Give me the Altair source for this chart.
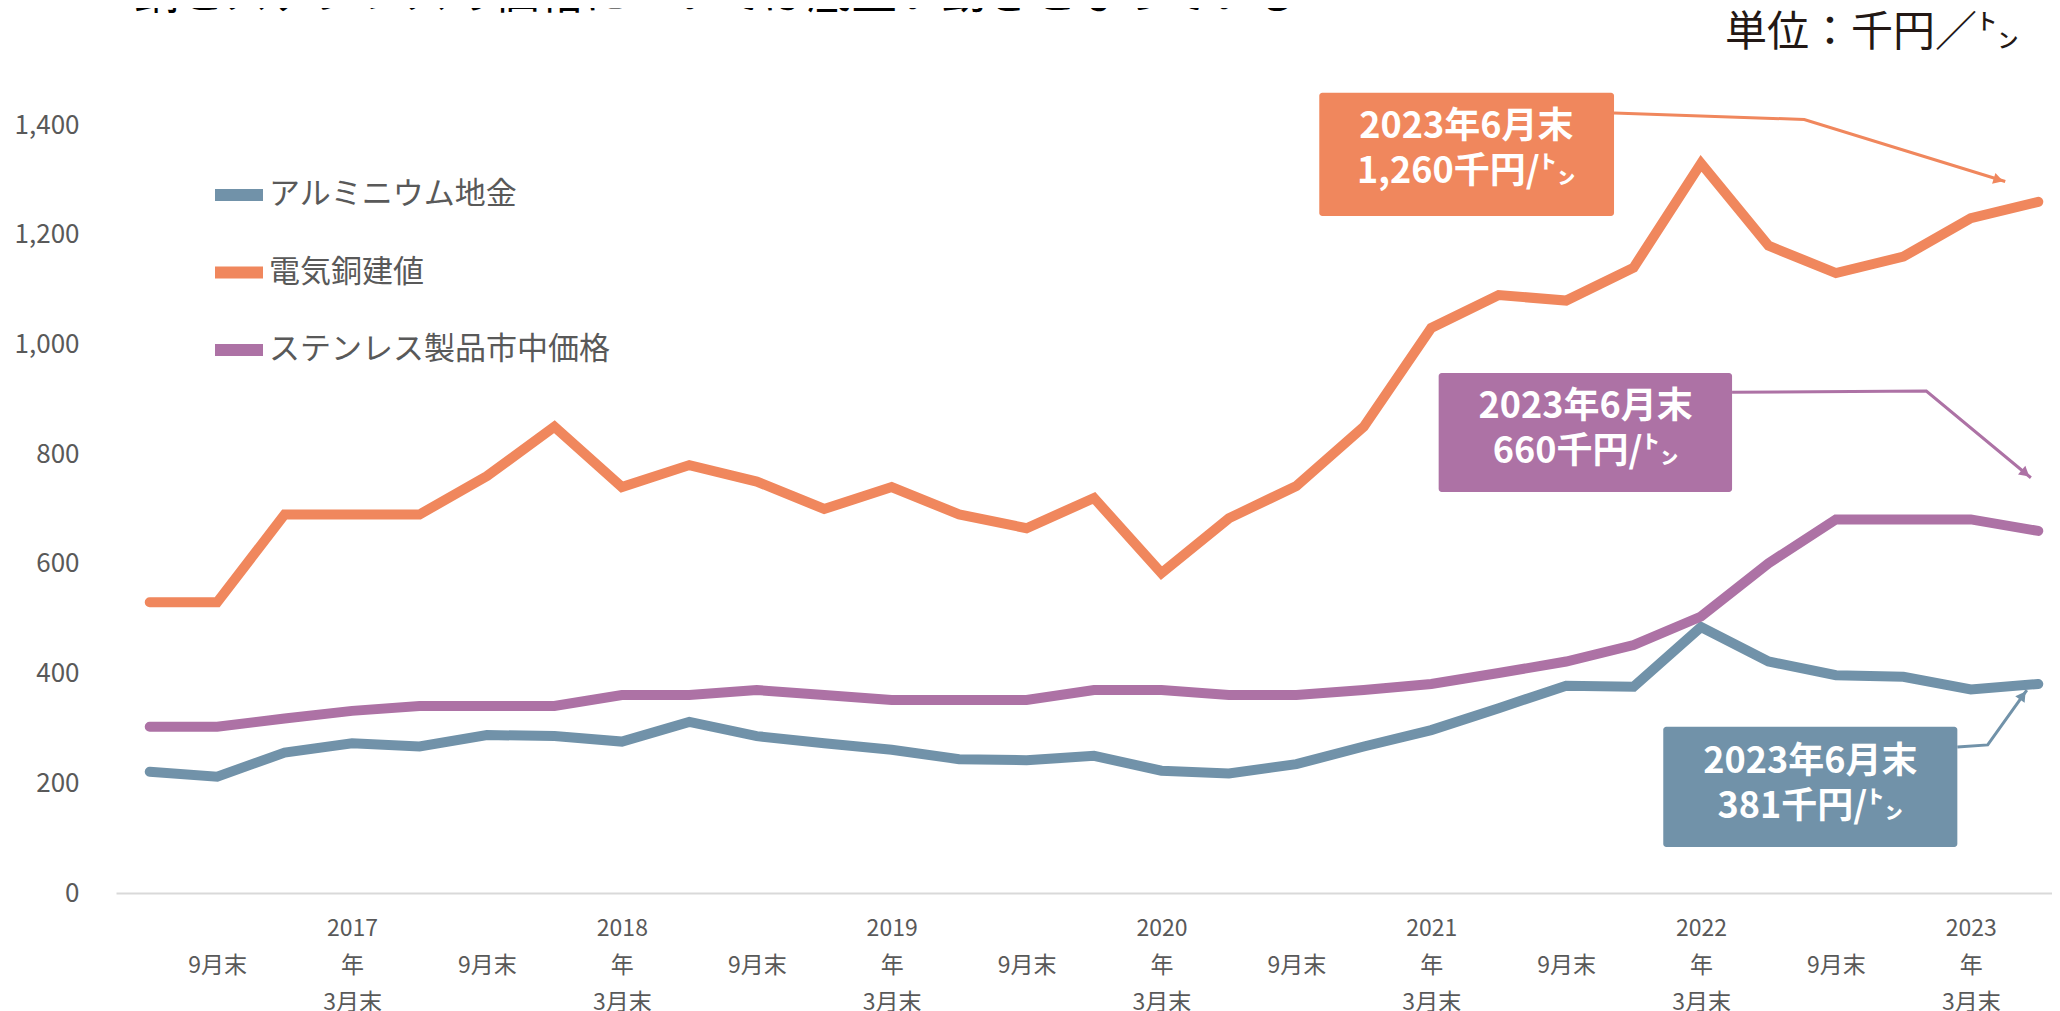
import json
import altair as alt
import pandas as pd

FONT = "Noto Sans CJK JP"

# ---- data ----
series_names = ["アルミニウム地金", "電気銅建値", "ステンレス製品市中価格"]
series_colors = ["#7192A9", "#F0875D", "#AD72A5"]

aluminium = [221, 212, 256, 273, 267, 288, 286, 276, 312, 286, 273, 261, 244, 242, 250,
             223, 218, 235, 267, 297, 337, 378, 376, 485, 422, 397, 394, 371, 381]
copper = [530, 530, 690, 690, 690, 760, 850, 740, 780, 750, 700, 740, 690, 665, 720,
          583, 683, 742, 850, 1030, 1090, 1080, 1140, 1330, 1180, 1130, 1160, 1230, 1260]
stainless = [303, 303, 318, 332, 341, 341, 341, 361, 361, 370, 361, 352, 352, 352, 370,
             370, 361, 361, 370, 381, 401, 422, 452, 504, 601, 681, 681, 681, 660]

# tick labels: three rows (year / 年 / month); "9月末" sits on the middle row
tick_labels = ["", "\n9月末", "", "2017\n年\n3月末", "", "\n9月末", "", "2018\n年\n3月末",
               "", "\n9月末", "", "2019\n年\n3月末", "", "\n9月末", "", "2020\n年\n3月末",
               "", "\n9月末", "", "2021\n年\n3月末", "", "\n9月末", "", "2022\n年\n3月末",
               "", "\n9月末", "", "2023\n年\n3月末", ""]
y_ticks = [0, 200, 400, 600, 800, 1000, 1200, 1400]

title_text = "銅とステンレスの価格については底堅い動きとなっている"
unit_text = "単位：千円／㌧"

# annotations (in data units: x = quarter index, y = 千円/トン)
ann_text = ["2023年6月末\n1,260千円/㌧", "2023年6月末\n660千円/㌧", "2023年6月末\n381千円/㌧"]
ann_color = ["#F0875D", "#AD72A5", "#7192A9"]
ann_x1 = [17.34, 19.11, 22.44]
ann_x2 = [21.71, 23.46, 26.80]
ann_y1 = [1459, 948, 303]
ann_y2 = [1234, 731, 84]
ann_tx = [19.52, 21.29, 24.62]
ann_ty = [1396, 886, 239]
lead_x = [[21.71, 24.53, 27.51], [23.46, 26.34, 27.89], [26.80, 27.25, 27.83]]
lead_y = [[1422, 1410, 1297], [913, 915, 757], [266, 270, 370]]
arrow_x = [27.41, 27.81, 27.77]
arrow_y = [1300, 765, 360]
arrow_angle = [107, 130, 35]

# ---- tables ----
rows = []
for name, vals in zip(series_names, [aluminium, copper, stainless]):
    for i, v in enumerate(vals):
        rows.append({"idx": i, "series": name, "value": v})
df = pd.DataFrame(rows)

boxes = pd.DataFrame({"x1": ann_x1, "x2": ann_x2, "y1": ann_y1, "y2": ann_y2,
                      "tx": ann_tx, "ty": ann_ty, "text": ann_text, "color": ann_color,
                      "ax": arrow_x, "ay": arrow_y, "angle": arrow_angle})
lead_rows = []
for k in range(3):
    for j in range(3):
        lead_rows.append({"k": k, "order": j, "x": lead_x[k][j], "y": lead_y[k][j],
                          "color": ann_color[k]})
leads = pd.DataFrame(lead_rows)

tick_idx = [i for i, t in enumerate(tick_labels) if t]
label_arr = json.dumps([t.split("\n") if t else [""] for t in tick_labels], ensure_ascii=False)

xscale = alt.Scale(domain=[-0.5, 28.5], range=[0, 1956], nice=False, zero=False)
yscale = alt.Scale(domain=[0, 1400], nice=False, zero=True)

x_axis = alt.Axis(values=tick_idx, labelExpr=f"{label_arr}[datum.value]", title=None,
                  ticks=False, grid=False, domain=True, domainColor="#D9D9D9", domainWidth=2,
                  labelFont=FONT, labelFontSize=23, labelColor="#595959", labelPadding=35,
                  labelBaseline="middle", labelLineHeight=37, labelOverlap=False,
                  labelFlush=False, labelBound=False)
y_axis = alt.Axis(values=y_ticks, format=",d", title=None, ticks=False, grid=False, domain=False,
                  labelFont=FONT, labelFontSize=26, labelColor="#595959", labelPadding=37,
                  labelBaseline="middle")

lines = alt.Chart(df).mark_line(strokeWidth=10, strokeCap="round", strokeJoin="miter").encode(
    x=alt.X("idx:Q", scale=xscale, axis=x_axis),
    y=alt.Y("value:Q", scale=yscale, axis=y_axis),
    color=alt.Color("series:N", scale=alt.Scale(domain=series_names, range=series_colors),
                    legend=alt.Legend(title=None, orient="none", legendX=93, legendY=40,
                                      symbolType="stroke", symbolSize=2304, symbolStrokeWidth=12,
                                      labelFont=FONT, labelFontSize=31, labelColor="#595959",
                                      labelOffset=0, rowPadding=23.5, padding=0, labelLimit=0)),
    order=alt.Order("idx:Q"),
)

leader = alt.Chart(leads).mark_line(strokeWidth=3).encode(
    x=alt.X("x:Q", scale=xscale),
    y=alt.Y("y:Q", scale=yscale),
    detail="k:N",
    order="order:Q",
    color=alt.Color("color:N", scale=None),
)
arrows = alt.Chart(boxes).mark_point(shape="triangle-up", filled=True, size=130, opacity=1).encode(
    x=alt.X("ax:Q", scale=xscale),
    y=alt.Y("ay:Q", scale=yscale),
    angle=alt.Angle("angle:Q", scale=None),
    color=alt.Color("color:N", scale=None),
)
rects = alt.Chart(boxes).mark_rect(cornerRadius=3).encode(
    x=alt.X("x1:Q", scale=xscale), x2="x2:Q",
    y=alt.Y("y1:Q", scale=yscale), y2="y2:Q",
    fill=alt.Fill("color:N", scale=None),
)
texts = alt.Chart(boxes).mark_text(font=FONT, fontSize=36, fontWeight="bold", color="white",
                                   lineBreak="\n", lineHeight=45, baseline="middle",
                                   align="center").encode(
    x=alt.X("tx:Q", scale=xscale),
    y=alt.Y("ty:Q", scale=yscale),
    text="text:N",
)

one = pd.DataFrame({"t": [title_text], "u": [unit_text]})
title = alt.Chart(one).mark_text(font=FONT, fontSize=45, align="left", baseline="alphabetic",
                                 color="#000000").encode(
    x=alt.value(18), y=alt.value(-116), text="t:N")
unit = alt.Chart(one).mark_text(font=FONT, fontSize=42, align="right", baseline="middle",
                                color="#231815").encode(
    x=alt.value(1903), y=alt.value(-92), text="u:N")

chart = alt.layer(lines, leader, arrows, rects, texts, title, unit).properties(
    width=1936, height=768,
    autosize=alt.AutoSizeParams(type="none"),
    padding={"left": 108, "top": 117, "right": 0, "bottom": 118},
    background="white",
).configure_view(stroke=None)

chart.save("out.html", embed_options={"renderer": "svg", "actions": False})
